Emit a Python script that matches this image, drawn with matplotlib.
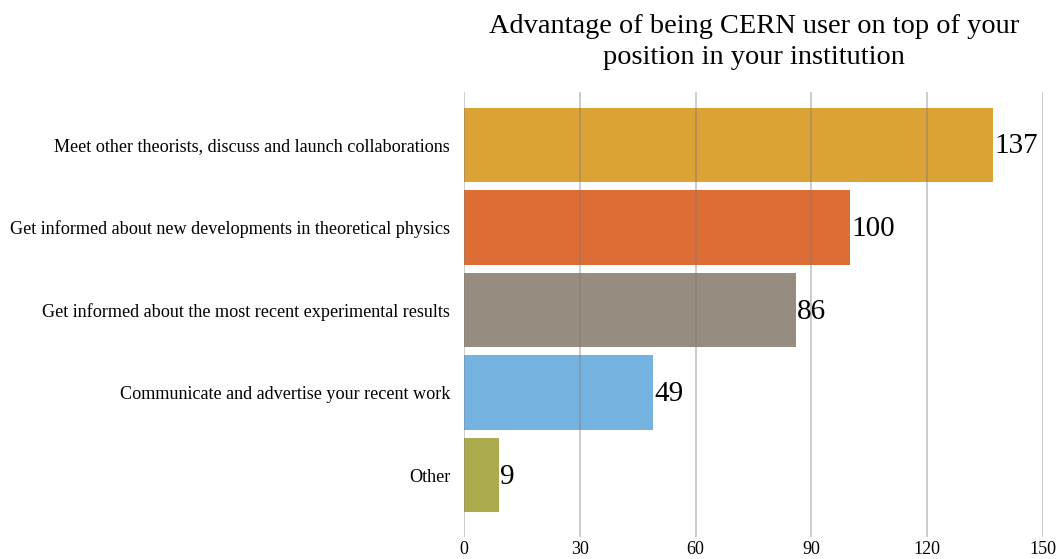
import matplotlib.pyplot as plt

categories = [
    'Meet other theorists, discuss and launch collaborations',
    'Get informed about new developments in theoretical physics',
    'Get informed about the most recent experimental results',
    'Communicate and advertise your recent work',
    'Other',
]
values = [137, 100, 86, 49, 9]
colors = ['#dba236', '#dc6d35', '#968c80', '#74b3e0', '#abab4d']
xticks = [0, 30, 60, 90, 120, 150]

plt.rcParams['font.family'] = ['Liberation Serif', 'DejaVu Serif']

fig = plt.figure(figsize=(10.61, 5.59), dpi=100)
ax = fig.add_axes([0.4373, 0.0394, 0.5457, 0.796])

pos = list(range(len(categories)))
ax.barh(pos, values, height=0.9, color=colors, zorder=1)
for p, v in zip(pos, values):
    ax.text(v + 0.3, p + 0.02, str(v), va='center', ha='left', fontsize=21, zorder=3)

ax.set_xlim(0, 150)
ax.set_ylim(4.75, -0.64)
ax.set_xticks(xticks)
ax.set_xticklabels([str(t) for t in xticks], fontsize=13)
ax.set_yticks(pos)
ax.set_yticklabels(categories, fontsize=13.1)
ax.tick_params(length=0, pad=10)
ax.tick_params(axis='x', pad=3)
ax.xaxis.grid(True, color='#7a7a7a', alpha=0.45, linewidth=1.2, zorder=2)
ax.set_axisbelow(False)
for s in ax.spines.values():
    s.set_visible(False)

fig.suptitle('Advantage of being CERN user on top of your\nposition in your institution',
             x=0.711, y=0.975, fontsize=20.4, linespacing=1.3)

fig.savefig('out.png', dpi=100)
